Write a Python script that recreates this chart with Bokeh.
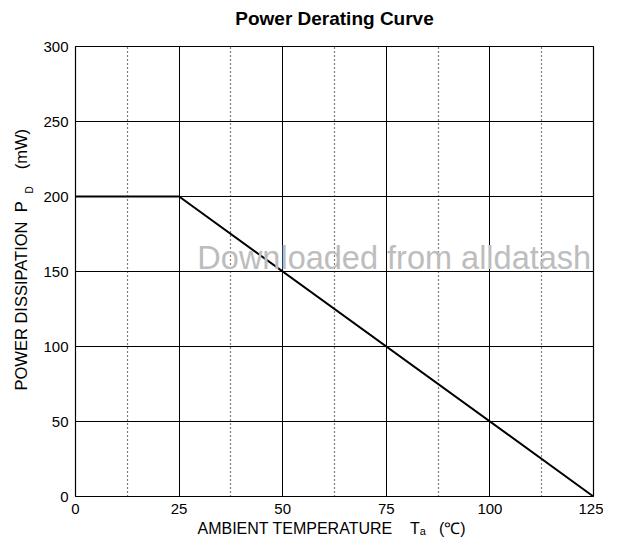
from bokeh.plotting import figure
from bokeh.models import Range1d, FixedTicker, Label, Title
from bokeh.embed import file_html
from bokeh.resources import INLINE

# data
temps = [0, 25, 125]
power = [200, 200, 0]
x_major = [0, 25, 50, 75, 100, 125]
x_minor = [12.5, 37.5, 62.5, 87.5, 112.5]
y_major = [0, 50, 100, 150, 200, 250, 300]

NB = "\u00a0"
title_text = "Power Derating Curve"
x_label = "AMBIENT TEMPERATURE" + NB * 4 + "T\u2090" + NB * 3 + "(\u2103)"
y_label = "POWER DISSIPATION" + NB * 2 + "P" + NB * 7 + "(mW)"
y_sub = "D"
watermark = "Downloaded from alldatash"

FONT = "Liberation Sans"

p = figure(width=603, height=538, output_backend="svg", toolbar_location=None,
           x_range=Range1d(0, 125), y_range=Range1d(0, 300),
           min_border_left=75, min_border_right=10, min_border_top=46, min_border_bottom=42)
p.background_fill_color = "white"
p.border_fill_color = "white"
p.outline_line_color = "black"
p.outline_line_width = 1.2

# main title (placed outermost) with a small spacer panel between it and the frame
p.title.text = title_text
p.title.align = "center"
p.title.vertical_align = "top"
p.title.standoff = 0
p.title.text_font = FONT
p.title.text_font_size = "19px"
p.title.text_font_style = "bold"
p.title.text_color = "black"
p.add_layout(Title(text=NB, text_font_size="1px", standoff=12.8), "above")

for ax in (p.xaxis[0], p.yaxis[0]):
    ax.major_tick_in = 0
    ax.major_tick_out = 0
    ax.minor_tick_in = 0
    ax.minor_tick_out = 0
    ax.axis_line_color = None
    ax.major_label_text_font = FONT
    ax.major_label_text_font_size = "15px"
    ax.major_label_text_color = "black"
    ax.major_label_standoff = 7

p.xaxis.ticker = FixedTicker(ticks=x_major, minor_ticks=x_minor)
p.yaxis.ticker = FixedTicker(ticks=y_major)

p.xgrid.ticker = FixedTicker(ticks=x_major, minor_ticks=x_minor)
p.xgrid.grid_line_color = "black"
p.xgrid.grid_line_width = 1
p.xgrid.minor_grid_line_color = "black"
p.xgrid.minor_grid_line_dash = "1 3"
p.xgrid.minor_grid_line_width = 1.2
p.ygrid.ticker = FixedTicker(ticks=y_major)
p.ygrid.grid_line_color = "black"
p.ygrid.grid_line_width = 1

# watermark
p.add_layout(Label(x=29.4, y=158.7, text=watermark,
                   text_font=FONT, text_font_size="32.5px", text_color="#bdbdbd",
                   text_baseline="middle", text_align="left"))

p.line(temps, power, line_color="black", line_width=2)

# x axis label
p.add_layout(Title(text=x_label, align="left", offset=122, standoff=2,
                   text_font=FONT, text_font_size="16px", text_font_style="normal",
                   text_color="black"), "below")

# y axis label: subscript first (nearest axis), then main text
p.add_layout(Title(text=y_sub, align="left", offset=303, standoff=7.2, vertical_align="top",
                   text_font=FONT, text_font_size="10px", text_font_style="normal",
                   text_color="black"), "left")
p.add_layout(Title(text=y_label, align="left", offset=106, standoff=-19.4, vertical_align="bottom",
                   text_font=FONT, text_font_size="16.5px", text_font_style="normal",
                   text_color="black"), "left")

open("out.html", "w").write(file_html(p, INLINE))
